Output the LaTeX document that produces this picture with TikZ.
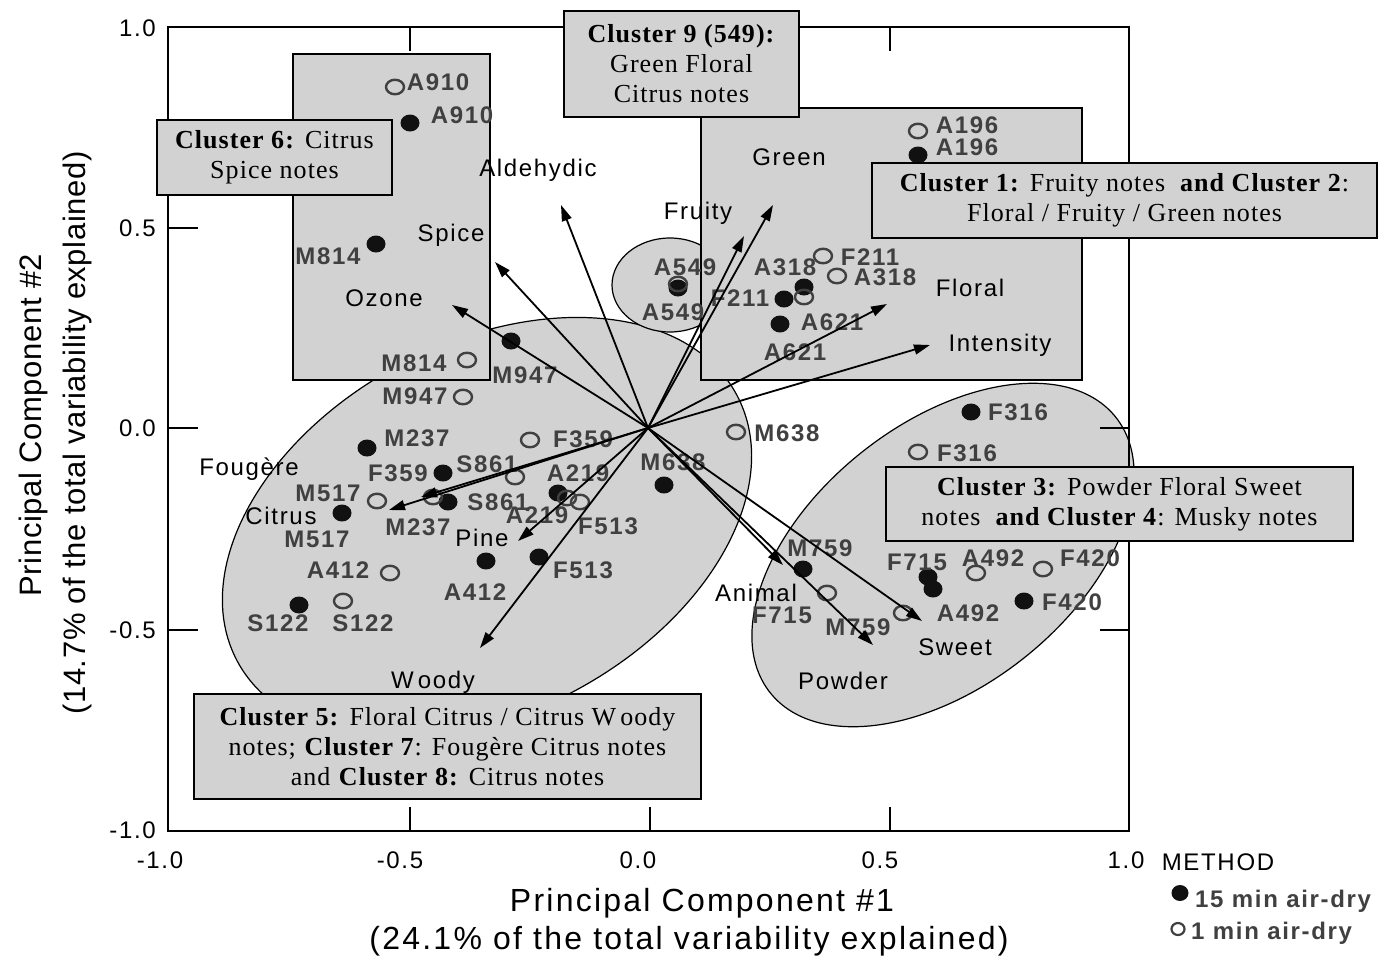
\documentclass[tikz,border=0pt]{standalone}
\usepackage{fontspec}
\setmainfont{Liberation Serif}
\setsansfont{Liberation Sans}
\newfontfamily\lsans[LetterSpace=7]{Liberation Sans}
\newfontfamily\lserif[LetterSpace=4]{Liberation Serif}
\newfontfamily\ltitle[LetterSpace=7]{Liberation Sans}
\newfontfamily\lytitle[LetterSpace=2]{Liberation Sans}
\usetikzlibrary{arrows.meta,shapes.geometric}
\definecolor{clgray}{RGB}{210,210,210}
\definecolor{labgray}{RGB}{64,64,64}
\definecolor{dotblack}{RGB}{17,17,17}
\begin{document}
\begin{tikzpicture}[x=1pt,y=-1pt,
  clfill/.style={fill=clgray, draw=black, line width=1.2pt},
  framestyle/.style={draw=black, line width=1.5pt},
  fdot/.style={ellipse, fill=dotblack, inner sep=0pt, minimum width=19pt, minimum height=17pt},
  odot/.style={ellipse, draw=labgray, line width=2.4pt, inner sep=0pt, minimum width=18pt, minimum height=14.5pt},
  plab/.style={font={\lsans\bfseries\fontsize{24}{24}\selectfont}, text=labgray, inner sep=0pt, text height=17pt, text depth=0pt},
  vlab/.style={font={\lsans\fontsize{24}{24}\selectfont}, text=black, inner sep=0pt, text height=17pt, text depth=0pt},
  vecarrow/.style={line width=1.8pt, -{Triangle[length=16pt,width=10pt]}},
  cbox/.style={fill=clgray, draw=black, line width=1.5pt, align=center, inner sep=0pt, font={\lserif\fontsize{26}{30}\selectfont}},
]
\useasboundingbox (0,0) rectangle (1385,956);
% cluster regions
\draw[clfill, rotate around={28:(487,528)}] (487,528) ellipse [x radius=283pt, y radius=185pt];
\draw[clfill] (670,285) ellipse [x radius=58pt, y radius=47pt];
\draw[clfill, rotate around={38.6:(943,555)}] (943,555) ellipse [x radius=221pt, y radius=131pt];
\draw[clfill, line width=1.5pt] (293,54) rectangle (490,380);
\draw[clfill, line width=1.5pt] (701,108) rectangle (1082,380);
% frame and ticks
\draw[framestyle] (168,27) rectangle (1129,831);
\foreach \yy in {228,428,630} {
  \draw[framestyle] (168,\yy) -- (198,\yy);
  \draw[framestyle] (1129,\yy) -- (1100,\yy);
}
\foreach \xx in {410,650,890} {
  \draw[framestyle] (\xx,27) -- (\xx,51);
  \draw[framestyle] (\xx,831) -- (\xx,807);
}
% tick labels
\node[vlab, anchor=east] (ty1) at (156,28) {1.0};
\node[vlab, anchor=east] (ty2) at (156,228) {0.5};
\node[vlab, anchor=east] (ty3) at (156,428) {0.0};
\node[vlab, anchor=east] (ty4) at (156,630) {-0.5};
\node[vlab, anchor=east] (ty5) at (156,830) {-1.0};
\node[vlab] (tx1) at (160,860) {-1.0};
\node[vlab] (tx2) at (400,860) {-0.5};
\node[vlab] (tx3) at (638,860) {0.0};
\node[vlab] (tx4) at (880,860) {0.5};
\node[vlab] (tx5) at (1126,860) {1.0};
\node[vlab] (method) at (1218,862) {METHOD};
% axis titles
\node[font={\ltitle\fontsize{32}{32}\selectfont}, inner sep=0pt, text height=23pt, text depth=0pt] (xt1) at (702,900) {Principal Component \#1};
\node[font={\ltitle\fontsize{32}{32}\selectfont}, inner sep=0pt, text height=23pt, text depth=0pt] (xt2) at (689,938) {(24.1\% of the total variability explained)};
\node[font={\lytitle\fontsize{31}{31}\selectfont}, inner sep=0pt, text height=22pt, text depth=0pt, rotate=90] (yt1) at (30,425) {Principal Component \#2};
\node[font={\lytitle\fontsize{31}{31}\selectfont}, inner sep=0pt, text height=22pt, text depth=0pt, rotate=90] (yt2) at (74,433) {(14.7\% of the total variability explained)};
% points
\foreach \n/\x/\y in {A910/410/123, M814/376/244, M947/511/341, M237/367/448, F359/443/473, S861/448/502, M517/342/513, A219/558/493, F513/539/557, A412/486/561, S122/299/605, A549/678/288, A196/918/155, A318/804/287, F211/784/299, A621/780/324, M638/664/485, F316/971/412, M759/803/569, F715/928/577, A492/933/589, F420/1024/601}
  \node[fdot] (f\n) at (\x,\y) {};
\foreach \n/\x/\y in {A910/395/87, M814/467/360, M947/463/397, F359/530/440, S861/515/477, M237/433/497, M517/377/501, A219/567/498, F513/580/502, A412/390/573, S122/343/601, A549/678/284, A196/918/131, F211/823/256, A318/837/276, A621/804/297, M638/736/432, F316/918/452, F715/827/593, M759/903/613, A492/976/573, F420/1043/569}
  \node[odot] (o\n) at (\x,\y) {};
% point labels
\foreach \n/\x/\y in {A910/462/115, M814/328/256, M947/525/375, M237/417/438, F359/398/473, S861/498/502, M517/317/539, A219/578/473, F513/583/570, A412/475/592, S122/278/623, A549/673/312, A196/967/147, A318/785/267, F211/740/298, A621/832/322, M638/673/462, F316/1018/412, M759/820/548, F715/917/562, A492/968/613, F420/1072/602}
  \node[plab] (lf\n) at (\x,\y) {\n};
\foreach \n/\x/\y in {A910/438/82, M814/414/363, M947/415/396, F359/583/439, S861/487/464, M237/418/527, M517/328/493, A219/537/515, F513/608/526, A412/338/570, S122/363/623, A549/685/267, A196/967/125, F211/870/257, A318/885/277, A621/795/352, M638/787/433, F316/967/453, F715/782/615, M759/858/627, A492/993/558, F420/1090/558}
  \node[plab] (lo\n) at (\x,\y) {\n};
% attribute vectors
\coordinate (O) at (648,428);
\foreach \n/\x/\y in {Ald/561/205, Spi/495/262, Ozo/452/305, Fru/744/236, Gre/773/205, Flo/887/304, Int/930/345, Fou/421/497, Cit/389/510, Pin/518/541, Woo/480/648, Ani/783/565, Pow/873/645, Swe/922/621}
  \coordinate (t\n) at (\x,\y);
\foreach \n in {Ald,Spi,Ozo,Fru,Gre,Flo,Int,Fou,Cit,Pin,Woo,Ani,Pow,Swe}
  \draw[vecarrow] (O) -- (t\n);
\node[vlab] (vAld) at (538,168) {Aldehydic};
\node[vlab] (vSpi) at (451,233) {Spice};
\node[vlab] (vOzo) at (384,298) {Ozone};
\node[vlab] (vFru) at (698,211) {Fruity};
\node[vlab] (vGre) at (789,157) {Green};
\node[vlab] (vFlo) at (970,288) {Floral};
\node[vlab] (vInt) at (1000,343) {Intensity};
\node[vlab] (vFou) at (249,467) {Fougère};
\node[vlab] (vCit) at (281,516) {Citrus};
\node[vlab] (vPin) at (482,538) {Pine};
\node[vlab] (vWoo) at (433,680) {W\kern4pt oody};
\node[vlab] (vAni) at (756,593) {Animal};
\node[vlab] (vPow) at (843,681) {Powder};
\node[vlab] (vSwe) at (955,647) {Sweet};
% cluster label boxes
\node[cbox, minimum width=235pt, minimum height=75pt] (c6) at (274.5,157.5) {\textbf{Cluster 6:} Citrus\\Spice notes};
\node[cbox, minimum width=235pt, minimum height=106pt] (c9) at (681.5,64) {\textbf{Cluster 9 (549):}\\Green Floral\\Citrus notes};
\node[cbox, minimum width=505pt, minimum height=75pt] (c1) at (1124.5,200.5) {\textbf{Cluster 1:} Fruity notes \ \textbf{and Cluster 2}:\\Floral / Fruity / Green notes};
\node[cbox, minimum width=467pt, minimum height=74pt] (c3) at (1119.5,504) {\textbf{Cluster 3:} Powder Floral Sweet\\notes \ \textbf{and Cluster 4}: Musky notes};
\node[cbox, minimum width=507pt, minimum height=105pt] (c5) at (447.5,746.5) {\textbf{Cluster 5:} Floral Citrus / Citrus W\kern4pt oody\\notes; \textbf{Cluster 7}: Fougère Citrus notes\\and \textbf{Cluster 8:} Citrus notes};
% legend
\node[fdot, minimum width=17pt, minimum height=16pt] (legf) at (1180,893) {};
\node[odot, minimum width=13pt, minimum height=12pt, line width=2.2pt] (lego) at (1178,929) {};
\node[plab, anchor=west] (legft) at (1195,899) {15 min air-dry};
\node[plab, anchor=west] (legot) at (1191,931) {1 min air-dry};
\end{tikzpicture}
\end{document}
